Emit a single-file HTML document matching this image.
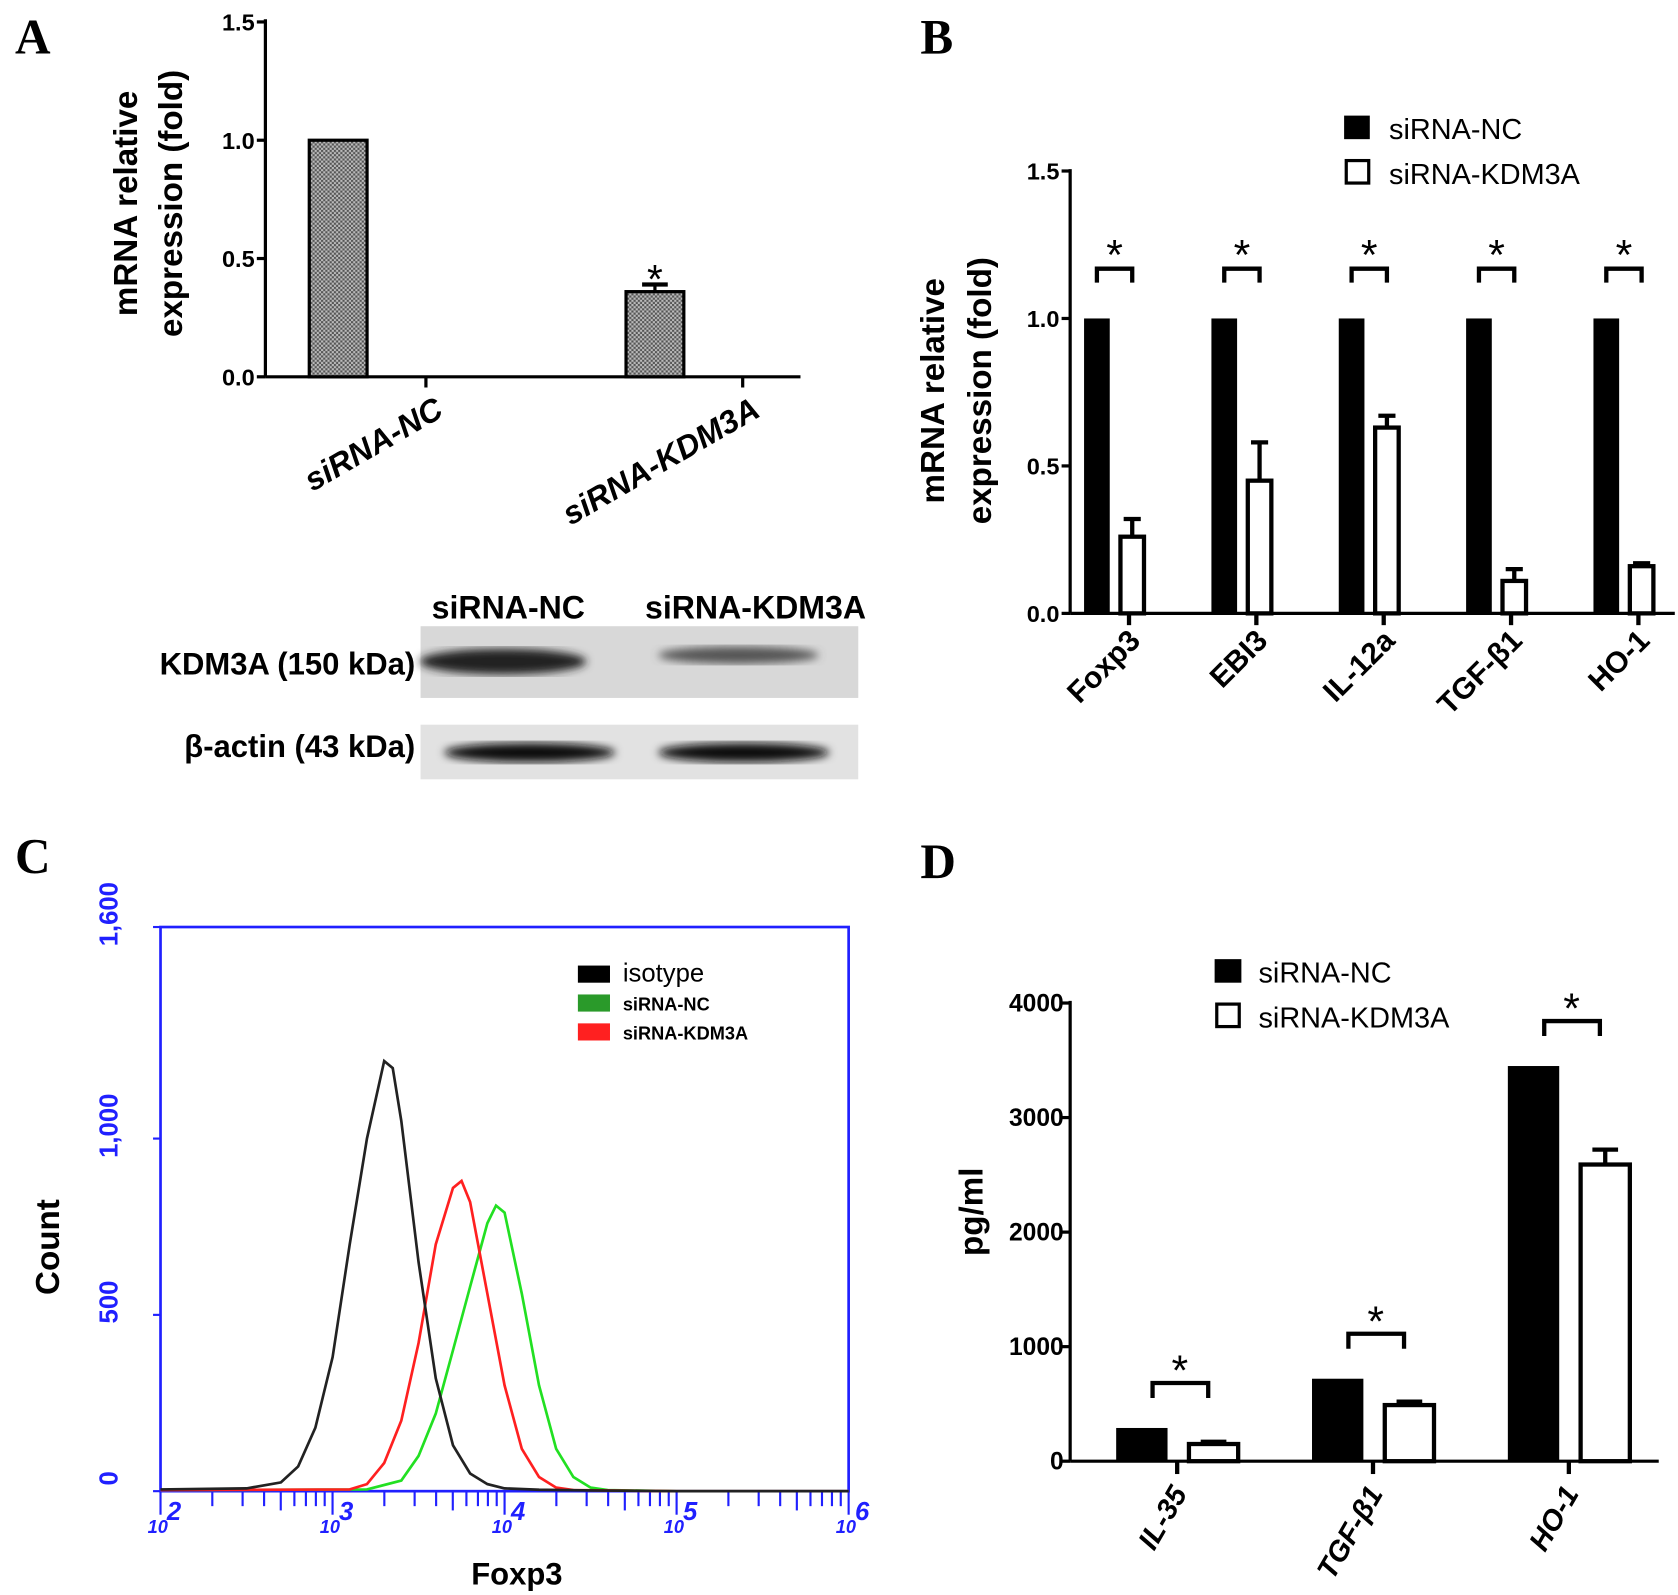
<!DOCTYPE html>
<html><head><meta charset="utf-8"><style>
html,body{margin:0;padding:0;background:#fff}
svg{display:block}
text{font-family:"Liberation Sans",sans-serif}
.lbl{font-family:"Liberation Serif",serif;font-weight:bold;font-size:46px}
</style></head><body>
<svg id="fig" width="1678" height="1595" viewBox="0 0 1568 1490" preserveAspectRatio="none" xmlns="http://www.w3.org/2000/svg">
<defs>
<pattern id="hatch" width="4" height="4" patternUnits="userSpaceOnUse"><rect width="4" height="4" fill="#bbb"/><rect width="2" height="2" fill="#555"/><rect x="2" y="2" width="2" height="2" fill="#555"/></pattern>
<filter id="blur"><feGaussianBlur stdDeviation="4"/></filter>
</defs>
<text class="lbl" x="14" y="50">A</text>
<text class="lbl" x="860" y="50">B</text>
<text class="lbl" x="14" y="815">C</text>
<text class="lbl" x="860" y="820">D</text>
<g id="pa"></g>
<g id="pb"></g>
<g id="pc"></g>
<g id="pd"></g>
<g>
<text x="475" y="578" text-anchor="middle" font-size="30" font-weight="bold">siRNA-NC</text>
<text x="706" y="578" text-anchor="middle" font-size="30" font-weight="bold">siRNA-KDM3A</text>
<text x="388" y="630" text-anchor="end" font-size="29" font-weight="bold">KDM3A (150 kDa)</text>
<text x="388" y="707" text-anchor="end" font-size="29" font-weight="bold">β-actin (43 kDa)</text>
<rect x="393" y="585" width="409" height="67" fill="#d8d8d8"/>
<ellipse cx="470" cy="618" rx="78" ry="12" fill="#222" filter="url(#blur)"/>
<ellipse cx="690" cy="612" rx="75" ry="8" fill="#555" filter="url(#blur)"/>
<rect x="393" y="677" width="409" height="51" fill="#e2e2e2"/>
<ellipse cx="495" cy="703" rx="80" ry="9" fill="#111" filter="url(#blur)"/>
<ellipse cx="695" cy="703" rx="80" ry="9" fill="#111" filter="url(#blur)"/>
</g>
</svg>
<script>
// Panel A
const aCats=["siRNA-NC","siRNA-KDM3A"];
const aVals=[1.0,0.36];
const aErr=[0,0.03];
const aTicks=[0,0.5,1.0,1.5];
// Panel B
const bCats=["Foxp3","EBI3","IL-12a","TGF-β1","HO-1"];
const bNC=[1,1,1,1,1];
const bKD=[0.26,0.45,0.63,0.11,0.16];
const bKDErr=[0.06,0.13,0.04,0.04,0.01];
const bTicks=[0,0.5,1.0,1.5];
// Panel C (log10 fluorescence, count)
const cTickLabels=["0","500","1,000","1,600"];
const cTicks=[0,500,1000,1600];
const cIsoX=[2.0,2.5,2.7,2.8,2.9,3.0,3.1,3.2,3.3,3.35,3.4,3.5,3.6,3.7,3.8,3.9,4.0,4.2,4.5,5.0,6.0];
const cIsoY=[5,8,25,70,180,380,700,1000,1220,1200,1050,650,320,130,50,20,8,4,2,0,0];
const cNCX=[2.0,3.2,3.4,3.5,3.6,3.7,3.8,3.9,3.95,4.0,4.1,4.2,4.3,4.4,4.5,4.6,5.0,6.0];
const cNCY=[3,5,30,100,220,400,580,760,810,790,560,300,120,40,10,3,0,0];
const cKDX=[2.0,3.1,3.2,3.3,3.4,3.5,3.6,3.7,3.75,3.8,3.9,4.0,4.1,4.2,4.3,4.4,5.0,6.0];
const cKDY=[3,5,20,80,200,420,700,860,880,820,560,300,120,40,10,3,0,0];
// Panel D
const dCats=["IL-35","TGF-β1","HO-1"];
const dNC=[290,720,3450];
const dKD=[150,490,2590];
const dKDErr=[20,30,130];
const dTicks=[0,1000,2000,3000,4000];

const NS="http://www.w3.org/2000/svg";
function mk(p,tag,attrs,txt){const e=document.createElementNS(NS,tag);for(const k in attrs)e.setAttribute(k,attrs[k]);if(txt!==undefined)e.textContent=txt;p.appendChild(e);return e;}

// ---- A ----
(function(){
const g=document.getElementById('pa');
const y=v=>352-v*221, x0=248, x1=748;
const cx=[316,612];
mk(g,'line',{x1:x0,y1:18,x2:x0,y2:352,stroke:'#000','stroke-width':3});
mk(g,'line',{x1:x0,y1:352,x2:x1,y2:352,stroke:'#000','stroke-width':3});
aTicks.forEach(t=>{mk(g,'line',{x1:x0-8,y1:y(t),x2:x0,y2:y(t),stroke:'#000','stroke-width':3});
const tl=mk(g,'text',{x:x0-10,y:y(t)+8,'text-anchor':'end','font-size':22,'font-weight':'bold'},t.toFixed(1));
});
aVals.forEach((v,i)=>{
const r=mk(g,'rect',{x:cx[i]-27,y:y(v),width:54,height:y(0)-y(v),fill:'url(#hatch)',stroke:'#000','stroke-width':3});

if(aErr[i]>0){mk(g,'line',{x1:cx[i],y1:y(v),x2:cx[i],y2:y(v+aErr[i]),stroke:'#000','stroke-width':3});
mk(g,'line',{x1:cx[i]-12,y1:y(v+aErr[i]),x2:cx[i]+12,y2:y(v+aErr[i]),stroke:'#000','stroke-width':4});
mk(g,'text',{x:cx[i],y:y(v+aErr[i])+8,'text-anchor':'middle','font-size':38},'*');}
const tx=cx[i]+82;
mk(g,'line',{x1:tx,y1:352,x2:tx,y2:362,stroke:'#000','stroke-width':3});
const l=mk(g,'text',{x:0,y:0,'text-anchor':'end','font-size':30,'font-weight':'bold','font-style':'italic',transform:`translate(${cx[i]+100},388) rotate(-30)`},aCats[i]);

});
const t=mk(g,'text',{'text-anchor':'middle','font-size':31,'font-weight':'bold',transform:'translate(128,190) rotate(-90)'},'mRNA relative');

mk(g,'text',{'text-anchor':'middle','font-size':31,'font-weight':'bold',transform:'translate(170,190) rotate(-90)'},'expression (fold)');
})();

// ---- B ----
(function(){
const g=document.getElementById('pb');
const y=v=>573-v*275.5, x0=1000, x1=1565;
mk(g,'line',{x1:x0,y1:158,x2:x0,y2:573,stroke:'#000','stroke-width':3});
mk(g,'line',{x1:x0,y1:573,x2:x1,y2:573,stroke:'#000','stroke-width':3});
bTicks.forEach(t=>{mk(g,'line',{x1:x0-8,y1:y(t),x2:x0,y2:y(t),stroke:'#000','stroke-width':3});
const tl=mk(g,'text',{x:x0-10,y:y(t)+8,'text-anchor':'end','font-size':22,'font-weight':'bold'},t.toFixed(1));
});
bCats.forEach((c,i)=>{
const gx=1025+i*119;
const b1=mk(g,'rect',{x:gx-12,y:y(bNC[i]),width:24,height:y(0)-y(bNC[i]),fill:'#000'});

const kx=gx+33;
const b2=mk(g,'rect',{x:kx-11,y:y(bKD[i]),width:22,height:y(0)-y(bKD[i]),fill:'#fff',stroke:'#000','stroke-width':4});

const et=y(bKD[i]+bKDErr[i]);
mk(g,'line',{x1:kx,y1:y(bKD[i]),x2:kx,y2:et,stroke:'#000','stroke-width':4});
mk(g,'line',{x1:kx-8,y1:et,x2:kx+8,y2:et,stroke:'#000','stroke-width':4});
mk(g,'path',{d:`M${gx} 264 V251 H${kx} V264`,fill:'none',stroke:'#000','stroke-width':4});
mk(g,'text',{x:(gx+kx)/2,y:252,'text-anchor':'middle','font-size':40},'*');
const tx=gx+30;
mk(g,'line',{x1:tx,y1:573,x2:tx,y2:584,stroke:'#000','stroke-width':4});
const l=mk(g,'text',{'text-anchor':'end','font-size':28,'font-weight':'bold',transform:`translate(${tx+12},600) rotate(-45)`},c);

});
const t=mk(g,'text',{'text-anchor':'middle','font-size':31,'font-weight':'bold',transform:'translate(882,365) rotate(-90)'},'mRNA relative');

mk(g,'text',{'text-anchor':'middle','font-size':31,'font-weight':'bold',transform:'translate(926,365) rotate(-90)'},'expression (fold)');
const lg1=mk(g,'rect',{x:1256,y:108,width:24,height:22,fill:'#000'});
mk(g,'text',{x:1298,y:130,'font-size':27},'siRNA-NC');
const lg2=mk(g,'rect',{x:1258,y:150,width:21,height:21,fill:'#fff',stroke:'#000','stroke-width':3});
mk(g,'text',{x:1298,y:172,'font-size':27},'siRNA-KDM3A');
})();

// ---- C ----
(function(){
const g=document.getElementById('pc');
const L=150,R=793,T=866,B=1393;
const x=v=>L+(v-2)*(R-L)/4, y=v=>B-v*(B-T)/1600;
const blue='#2020ff';
mk(g,'rect',{x:L,y:T,width:R-L,height:B-T,fill:'none',stroke:blue,'stroke-width':2.5});
cTicks.forEach((t,i)=>{mk(g,'line',{x1:L-7,y1:y(t),x2:L,y2:y(t),stroke:blue,'stroke-width':2});
const tl=mk(g,'text',{'text-anchor':'middle','font-size':24,'font-weight':'bold',fill:blue,transform:`translate(110,${y(t)-12}) rotate(-90)`},cTickLabels[i]);
});
for(let d=2;d<6;d++){for(let m=1;m<10;m++){const lx=x(d+Math.log10(m));mk(g,'line',{x1:lx,y1:B,x2:lx,y2:B+(m===1?22:(m===5?18:14)),stroke:blue,'stroke-width':2});}}
mk(g,'line',{x1:R,y1:B,x2:R,y2:B+22,stroke:blue,'stroke-width':2});
[2,3,4,5,6].forEach(d=>{const t=mk(g,'text',{x:x(d)-12,y:1432,'font-size':17,fill:blue,'font-style':'italic','font-weight':'bold'},'10');

mk(g,'text',{x:x(d)+6,y:1420,'font-size':24,fill:blue,'font-style':'italic','font-weight':'bold'},String(d));});
function curve(xs,ys,col,name){let d='';xs.forEach((v,i)=>{d+=(i?'L':'M')+x(v).toFixed(1)+' '+y(ys[i]).toFixed(1);});
const p=mk(g,'path',{d:d,fill:'none',stroke:col,'stroke-width':2.5});}
curve(cNCX,cNCY,'#22e022','curve-sirna-nc');
curve(cKDX,cKDY,'#ff2020','curve-sirna-kdm3a');
curve(cIsoX,cIsoY,'#222','curve-isotype');
const ct=mk(g,'text',{'text-anchor':'middle','font-size':31,'font-weight':'bold',transform:'translate(55,1165) rotate(-90)'},'Count');

const xt=mk(g,'text',{x:483,y:1480,'text-anchor':'middle','font-size':29,'font-weight':'bold'},'Foxp3');

const leg=[['#000','isotype',24],['#2a9a2a','siRNA-NC',17],['#ff2020','siRNA-KDM3A',17]];
leg.forEach((e,i)=>{const yy=902+i*27;const s=mk(g,'rect',{x:540,y:yy,width:30,height:16,fill:e[0]});
mk(g,'text',{x:582,y:yy+15,'font-size':e[2],'font-weight':i?'bold':'normal'},e[1]);});
})();

// ---- D ----
(function(){
const g=document.getElementById('pd');
const y=v=>1365-v*0.107, x0=1000, x1=1550;
mk(g,'line',{x1:x0,y1:935,x2:x0,y2:1365,stroke:'#000','stroke-width':3});
mk(g,'line',{x1:x0,y1:1365,x2:x1,y2:1365,stroke:'#000','stroke-width':3});
dTicks.forEach(t=>{mk(g,'line',{x1:x0-8,y1:y(t),x2:x0,y2:y(t),stroke:'#000','stroke-width':3});
const tl=mk(g,'text',{x:x0-6,y:y(t)+8,'text-anchor':'end','font-size':23,'font-weight':'bold'},String(t));
});
dCats.forEach((c,i)=>{
const gx=1067+i*183, kx=gx+67;
const b1=mk(g,'rect',{x:gx-24,y:y(dNC[i]),width:48,height:y(0)-y(dNC[i]),fill:'#000'});

const b2=mk(g,'rect',{x:kx-23,y:y(dKD[i]),width:46,height:y(0)-y(dKD[i]),fill:'#fff',stroke:'#000','stroke-width':4});

const et=y(dKD[i]+dKDErr[i]);
mk(g,'line',{x1:kx,y1:y(dKD[i]),x2:kx,y2:et,stroke:'#000','stroke-width':4});
mk(g,'line',{x1:kx-12,y1:et,x2:kx+12,y2:et,stroke:'#000','stroke-width':4});
const by=y(Math.max(dNC[i],dKD[i]+dKDErr[i]))-42;
mk(g,'path',{d:`M${gx+10} ${by+14} V${by} H${kx-5} V${by+14}`,fill:'none',stroke:'#000','stroke-width':4});
mk(g,'text',{x:(gx+kx)/2+2,y:by+2,'text-anchor':'middle','font-size':40},'*');
const tx=gx+33;
mk(g,'line',{x1:tx,y1:1365,x2:tx,y2:1377,stroke:'#000','stroke-width':4});
const l=mk(g,'text',{'text-anchor':'end','font-size':27,'font-weight':'bold','font-style':'italic',transform:`translate(${tx+10},1395) rotate(-60)`},c);

});
const t=mk(g,'text',{'text-anchor':'middle','font-size':31,'font-weight':'bold',transform:'translate(918,1132) rotate(-90)'},'pg/ml');

const lg1=mk(g,'rect',{x:1135,y:896,width:25,height:22,fill:'#000'});
mk(g,'text',{x:1176,y:918,'font-size':27},'siRNA-NC');
const lg2=mk(g,'rect',{x:1137,y:938,width:21,height:21,fill:'#fff',stroke:'#000','stroke-width':3});
mk(g,'text',{x:1176,y:960,'font-size':27},'siRNA-KDM3A');
})();
</script>
</body></html>
